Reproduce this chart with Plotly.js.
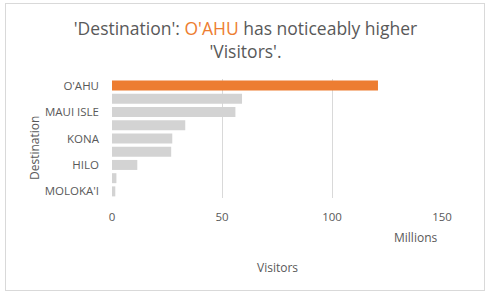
<!DOCTYPE html>
<html><head><meta charset="utf-8">
<script src="https://cdn.plot.ly/plotly-3.0.1.min.js"></script>
<style>
html,body{margin:0;padding:0;background:#fff;}
#wrap{position:relative;width:491px;height:298px;}
#chart{width:491px;height:298px;}
#border{position:absolute;left:5px;top:3px;width:480px;height:288px;border:1px solid #D9D9D9;pointer-events:none;box-sizing:border-box;}
</style></head>
<body><div id="wrap"><div id="chart"></div><div id="border"></div></div>
<script>
const destinations = ["O'AHU","KAUA'I","MAUI ISLE","LAHAINA","KONA","KOHALA","HILO","LANA'I","MOLOKA'I"];
const visitors = [120.9, 59.1, 56.1, 33.3, 27.4, 26.9, 11.5, 2.0, 1.5];
const shownLabels = ["O'AHU","MAUI ISLE","KONA","HILO","MOLOKA'I"];
const xTicks = [0, 50, 100, 150];
const highlight = "O'AHU";

const colors = destinations.map(d => d === highlight ? '#ED7D31' : '#D3D3D3');
const font = "'Open Sans', 'Segoe UI', sans-serif";
const grey = '#595959';

Plotly.newPlot('chart', [{
  type: 'bar', orientation: 'h',
  x: visitors, y: destinations,
  marker: {color: colors},
  hoverinfo: 'none'
}], {
  width: 491, height: 298,
  margin: {l: 112, r: 49, t: 79, b: 100},
  paper_bgcolor: '#fff', plot_bgcolor: '#fff',
  bargap: 0.245,
  showlegend: false,
  font: {family: font, color: grey},
  title: {
    text: "'Destination': <span style='color:#ED7D31'>O'AHU</span> has noticeably higher<br>'Visitors'.",
    font: {family: font, size: 17.5, color: grey},
    x: 0.5, xref: 'container', xanchor: 'center', y: 0.882, yanchor: 'middle'
  },
  xaxis: {
    range: [0, 150], tickvals: xTicks, ticktext: xTicks.map(String),
    showgrid: true, gridcolor: '#D9D9D9', gridwidth: 1,
    zeroline: false, showline: false, ticks: '',
    tickfont: {family: font, size: 11.5, color: grey},
    ticklabelstandoff: 10, fixedrange: true
  },
  yaxis: {
    autorange: 'reversed', type: 'category',
    tickvals: shownLabels, ticktext: shownLabels,
    showgrid: false, zeroline: false, showline: false, ticks: '',
    tickfont: {family: font, size: 11.5, color: grey},
    ticklabelstandoff: 12, fixedrange: true
  },
  annotations: [
    {text: 'Visitors', xref: 'paper', yref: 'paper', x: (277 - 112) / 330, y: (298 - 100 - 267) / 119, xanchor: 'center', yanchor: 'middle', showarrow: false, font: {family: font, size: 12, color: grey}},
    {text: 'Millions', xref: 'paper', yref: 'paper', x: (415 - 112) / 330, y: (298 - 100 - 237) / 119, xanchor: 'center', yanchor: 'middle', showarrow: false, font: {family: font, size: 12, color: grey}},
    {text: 'Destination', xref: 'paper', yref: 'paper', x: (34 - 112) / 330, y: (198 - 148) / 119, xanchor: 'center', yanchor: 'middle', textangle: -90, showarrow: false, font: {family: font, size: 12, color: grey}}
  ]
}, {displayModeBar: false, staticPlot: true});
</script></body></html>
